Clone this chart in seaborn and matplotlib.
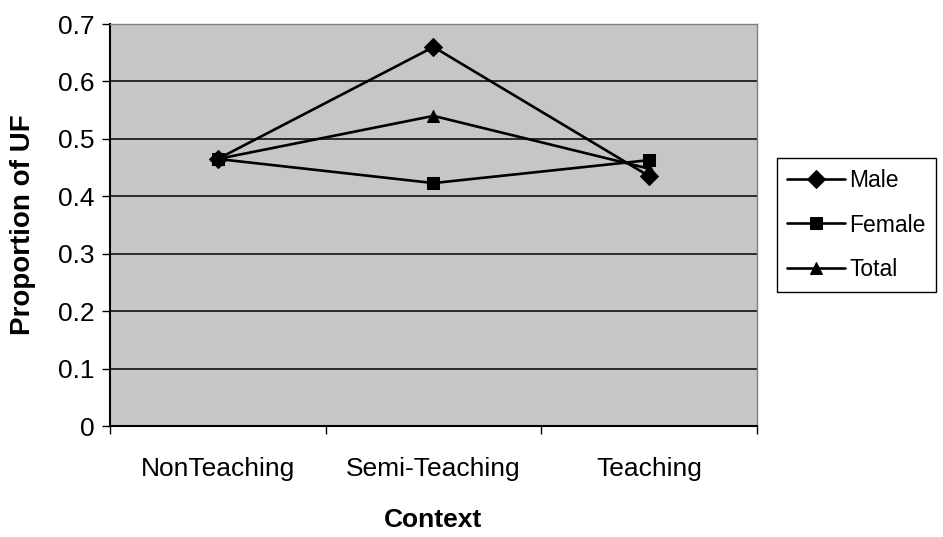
import pandas as pd
import matplotlib.pyplot as plt
import seaborn as sns

contexts = ['NonTeaching', 'Semi-Teaching', 'Teaching']
male = [0.465, 0.66, 0.435]
female = [0.465, 0.423, 0.463]
total = [0.465, 0.54, 0.448]

df = pd.DataFrame({
    'Context': contexts * 3,
    'Proportion': male + female + total,
    'Group': ['Male'] * 3 + ['Female'] * 3 + ['Total'] * 3,
})

sns.set_theme(style="white")
plt.rcParams['font.family'] = ['Liberation Sans', 'DejaVu Sans']
plt.rcParams['text.color'] = 'black'
plt.rcParams['axes.labelcolor'] = 'black'
plt.rcParams['xtick.color'] = 'black'
plt.rcParams['ytick.color'] = 'black'

fig = plt.figure(figsize=(9.43, 5.37), dpi=100)
ax = fig.add_axes([0.1166, 0.2067, 0.6862, 0.7486])
ax.set_facecolor('#c6c6c6')

sns.lineplot(data=df, x='Context', y='Proportion', hue='Group', style='Group',
             palette=['black'] * 3, markers={'Male': 'D', 'Female': 's', 'Total': '^'},
             dashes=False, markersize=9, linewidth=1.9, markeredgecolor='black',
             sort=False, ax=ax, zorder=3)

ax.set_ylim(0, 0.7)
ax.set_xlim(-0.5, 2.5)
ax.set_yticks([0, 0.1, 0.2, 0.3, 0.4, 0.5, 0.6, 0.7])
ax.set_yticklabels(['0', '0.1', '0.2', '0.3', '0.4', '0.5', '0.6', '0.7'])
ax.yaxis.grid(True, color='black', linewidth=1.1)
ax.set_axisbelow(True)

ax.set_xticks([0, 1, 2])
ax.set_xticks([-0.5, 0.5, 1.5, 2.5], minor=True)
ax.tick_params(axis='x', which='major', length=0, pad=22, labelsize=19)
ax.tick_params(axis='x', which='minor', length=6, width=1, color='black', direction='out', bottom=True)
ax.tick_params(axis='y', length=6, width=1, color='black', direction='out', left=True, labelsize=19, pad=5)

for side in ['top', 'right']:
    ax.spines[side].set_color('#808080')
    ax.spines[side].set_linewidth(1)
for side in ['left', 'bottom']:
    ax.spines[side].set_color('black')
    ax.spines[side].set_linewidth(1.5)

ax.set_xlabel('Context', fontsize=19, fontweight='bold', labelpad=20)
ax.set_ylabel('Proportion of UF', fontsize=20, fontweight='bold', labelpad=16)

leg = ax.legend(loc='center left', bbox_to_anchor=(1.031, 0.5), borderaxespad=0,
                fontsize=16.5, frameon=True, fancybox=False, edgecolor='black', framealpha=1,
                handlelength=2.5, handletextpad=0.2, borderpad=0.45, labelspacing=0.95)
leg.get_frame().set_linewidth(1)

plt.savefig('out.png', dpi=100)
plt.close()
